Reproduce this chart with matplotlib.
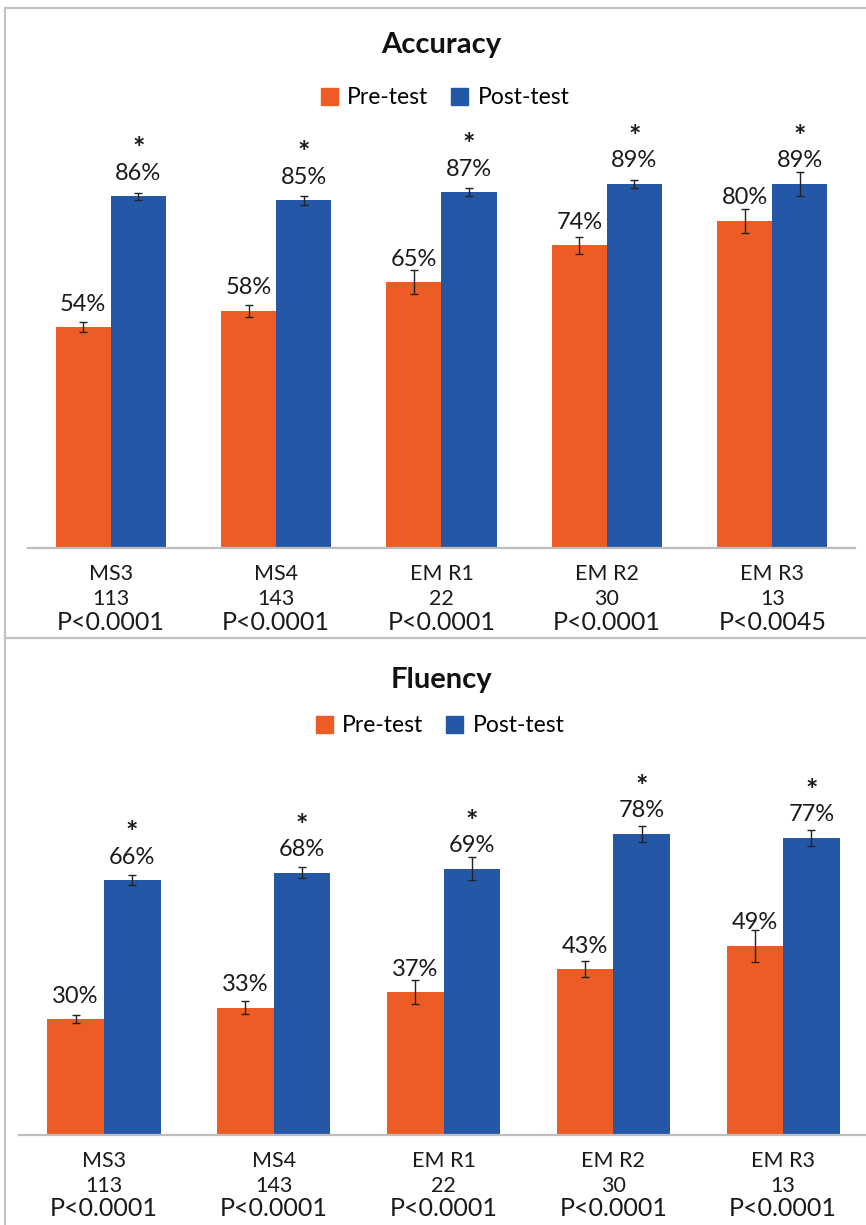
import matplotlib.pyplot as plt
from matplotlib.lines import Line2D
from matplotlib.patches import Patch
import numpy as np

plt.rcParams['font.family'] = ['Lato', 'DejaVu Sans']

# groups shown on both panels
groups = ['MS3', 'MS4', 'EM R1', 'EM R2', 'EM R3']
n_students = ['113', '143', '22', '30', '13']

# accuracy (%)
acc_pre = np.array([54, 58, 65, 74, 80])
acc_post = np.array([86, 85, 87, 89, 89])
acc_pre_err = np.array([1.2, 1.5, 3.0, 2.0, 3.0])
acc_post_err = np.array([0.8, 1.1, 1.0, 1.0, 3.0])
acc_p = ['P<0.0001', 'P<0.0001', 'P<0.0001', 'P<0.0001', 'P<0.0045']

# fluency (%)
flu_pre = np.array([30, 33, 37, 43, 49])
flu_post = np.array([66, 68, 69, 78, 77])
flu_pre_err = np.array([1.0, 1.6, 3.1, 2.1, 4.1])
flu_post_err = np.array([1.3, 1.4, 3.0, 2.1, 2.1])
flu_p = ['P<0.0001', 'P<0.0001', 'P<0.0001', 'P<0.0001', 'P<0.0001']

ORANGE = '#ec5c24'
BLUE = '#2458a6'
FRAME = '#c4c4c4'
INK = '#1a1a1a'

W, H = 866, 1225
fig = plt.figure(figsize=(W / 100, H / 100), dpi=100)

# panel frames
for (x0, y0, x1, y1) in [(5, 8, W, 8), (5, 8, 5, H), (5, 638, W, 638)]:
    fig.add_artist(Line2D([x0 / W, x1 / W], [1 - y0 / H, 1 - y1 / H],
                          transform=fig.transFigure, color=FRAME, lw=1.6))


def panel(rect, title, title_y, legend_x, legend_y, pre, post, pre_err, post_err, pvals):
    ax = fig.add_axes(rect)
    x = np.arange(len(groups))
    w = 1 / 3
    ekw = dict(ecolor='#222222', elinewidth=1.0, capsize=3, capthick=1.0)
    ax.bar(x - w / 2, pre, w, color=ORANGE, yerr=pre_err, error_kw=ekw, zorder=2)
    ax.bar(x + w / 2, post, w, color=BLUE, yerr=post_err, error_kw=ekw, zorder=2)
    ax.set_xlim(-0.5, len(groups) - 0.5)
    ax.set_ylim(0, 100)
    ax.set_xticks([])
    ax.set_yticks([])
    for s in ['top', 'right', 'left']:
        ax.spines[s].set_visible(False)
    ax.spines['bottom'].set_color('#bdbdbd')
    ax.spines['bottom'].set_linewidth(1.6)

    for i in range(len(groups)):
        ax.annotate(f'{pre[i]}%', (x[i] - w / 2, pre[i]), xytext=(0, 23),
                    textcoords='offset pixels', ha='center', va='center',
                    fontsize=17, color=INK)
        ax.annotate(f'{post[i]}%', (x[i] + w / 2, post[i]), xytext=(0, 23),
                    textcoords='offset pixels', ha='center', va='center',
                    fontsize=17, color=INK)
        ax.annotate('*', (x[i] + w / 2, post[i]), xytext=(0, 47),
                    textcoords='offset pixels', ha='center', va='center',
                    fontsize=21, fontweight='bold', color=INK)
        for txt, dy, fs in [(groups[i], -26, 15.5), (n_students[i], -51, 15.5),
                            (pvals[i], -74, 18)]:
            ax.annotate(txt, (x[i], 0), xycoords=('data', 'axes fraction'),
                        xytext=(0, dy), textcoords='offset pixels',
                        ha='center', va='center', fontsize=fs, color=INK,
                        annotation_clip=False)

    fig.text(441 / W, 1 - title_y / H, title, ha='center', va='center',
             fontsize=21, fontweight='bold', color='#111111')
    handles = [Patch(color=ORANGE, label='Pre-test'), Patch(color=BLUE, label='Post-test')]
    fig.legend(handles=handles, loc='center', ncol=2, frameon=False,
               bbox_to_anchor=(legend_x / W, 1 - legend_y / H),
               fontsize=16.5, handlelength=0.75, handleheight=0.75,
               handletextpad=0.4, columnspacing=1.0)
    return ax


panel([28 / W, 1 - 548 / H, 827 / W, 409 / H], 'Accuracy', 45, 445, 98,
      acc_pre, acc_post, acc_pre_err, acc_post_err, acc_p)
panel([19 / W, 1 - 1135 / H, 849 / W, 386 / H], 'Fluency', 680, 440, 726,
      flu_pre, flu_post, flu_pre_err, flu_post_err, flu_p)

fig.savefig('out.png', dpi=100)
